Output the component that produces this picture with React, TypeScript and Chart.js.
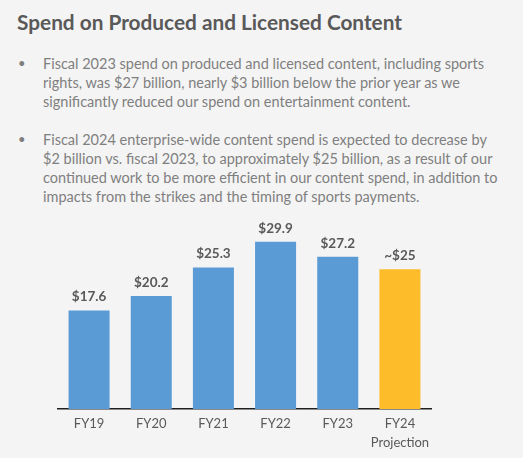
import React, { useEffect, useRef } from "react";
import { Chart, registerables } from "chart.js";

Chart.register(...registerables);

const categories: (string | string[])[] = ["FY19", "FY20", "FY21", "FY22", "FY23", ["FY24", "Projection"]];
const spend: number[] = [17.6, 20.2, 25.3, 29.9, 27.2, 25];
const valueLabels: string[] = ["$17.6", "$20.2", "$25.3", "$29.9", "$27.2", "~$25"];
const barColors: string[] = ["#5B9BD5", "#5B9BD5", "#5B9BD5", "#5B9BD5", "#5B9BD5", "#FDBD2B"];

const title = "Spend on Produced and Licensed Content";
const bullet1: string[] = [
  "Fiscal 2023 spend on produced and licensed content, including sports",
  "rights, was $27 billion, nearly $3 billion below the prior year as we",
  "significantly reduced our spend on entertainment content.",
];
const bullet2: string[] = [
  "Fiscal 2024 enterprise-wide content spend is expected to decrease by",
  "$2 billion vs. fiscal 2023, to approximately $25 billion, as a result of our",
  "continued work to be more efficient in our content spend, in addition to",
  "impacts from the strikes and the timing of sports payments.",
];

const FONT = "Lato, 'Open Sans', sans-serif";

const valueLabelPlugin = {
  id: "valueLabels",
  afterDatasetsDraw(chart: any) {
    const ctx = chart.ctx;
    const meta = chart.getDatasetMeta(0);
    ctx.save();
    ctx.font = `bold 13.5px ${FONT}`;
    ctx.fillStyle = "#595959";
    ctx.textAlign = "center";
    ctx.textBaseline = "middle";
    meta.data.forEach((bar: any, i: number) => {
      ctx.fillText(valueLabels[i], bar.x, bar.y - 13.5);
    });
    ctx.restore();
  },
};

function Bullet({ lines, top }: { lines: string[]; top: number }) {
  return (
    <div style={{ position: "absolute", left: 0, top, width: 523 }}>
      <div style={{ position: "absolute", left: 18, top: 0, lineHeight: "19px", fontSize: 13 }}>•</div>
      <div style={{ position: "absolute", left: 43, top: 0, lineHeight: "19px", fontSize: 14.5, whiteSpace: "nowrap" }}>
        {lines.map((l, i) => (
          <div key={i}>{l}</div>
        ))}
      </div>
    </div>
  );
}

export default function App() {
  const canvasRef = useRef<HTMLCanvasElement | null>(null);

  useEffect(() => {
    document.body.style.margin = "0";
    const canvas = canvasRef.current;
    if (!canvas) return;
    const chart = new Chart(canvas, {
      type: "bar",
      data: {
        labels: categories,
        datasets: [
          {
            data: spend,
            backgroundColor: barColors,
            borderWidth: 0,
            barPercentage: 0.66,
            categoryPercentage: 1,
          },
        ],
      },
      options: {
        animation: false,
        responsive: false,
        devicePixelRatio: 1,
        layout: { padding: { left: 58, right: 92, top: 15, bottom: 0 } },
        plugins: { legend: { display: false }, tooltip: { enabled: false } },
        scales: {
          y: { display: false, min: 0, max: 32 },
          x: {
            grid: { display: false, drawTicks: false },
            border: { display: true, color: "#1f1f1f", width: 1.5 },
            ticks: {
              color: "#595959",
              padding: 5,
              font: { family: FONT, size: 13, lineHeight: 1.46 },
              maxRotation: 0,
            },
            afterFit: (scale: any) => {
              scale.height = 49;
            },
          },
        },
      },
      plugins: [valueLabelPlugin],
    });
    return () => chart.destroy();
  }, []);

  return (
    <div
      style={{
        position: "relative",
        width: 523,
        height: 458,
        background: "#f4f4f4",
        fontFamily: FONT,
        color: "#7f7f7f",
        overflow: "hidden",
      }}
    >
      <div
        style={{
          position: "absolute",
          left: 17,
          top: 8,
          fontSize: 20.8,
          fontWeight: 700,
          color: "#595959",
          lineHeight: "28px",
          whiteSpace: "nowrap",
        }}
      >
        {title}
      </div>
      <Bullet lines={bullet1} top={54} />
      <Bullet lines={bullet2} top={130} />
      <canvas
        ref={canvasRef}
        width={523}
        height={243}
        style={{ position: "absolute", left: 0, top: 215, width: 523, height: 243 }}
      />
    </div>
  );
}
